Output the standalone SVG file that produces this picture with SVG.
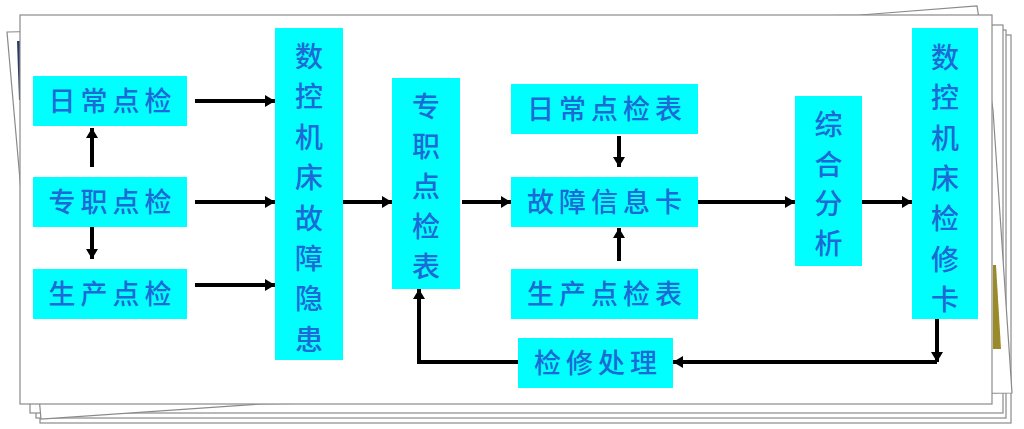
<svg xmlns="http://www.w3.org/2000/svg" width="1024" height="429" viewBox="0 0 1024 429">
<defs>
<style>
.pg{fill:#ffffff;stroke:#8a8a8a;stroke-width:1.2}
.box{fill:#00ffff}
.t{font-family:"Noto Sans CJK SC","Noto Sans CJK TC",sans-serif;font-size:27px;font-weight:500;fill:#1d6ad6;letter-spacing:5px}
.v{font-family:"Noto Sans CJK SC","Noto Sans CJK TC",sans-serif;font-size:28px;font-weight:500;fill:#1d6ad6;text-anchor:middle}
.c{fill:none;stroke:#000000;stroke-width:4;marker-end:url(#ah)}
</style>
<marker id="ah" markerUnits="userSpaceOnUse" markerWidth="11" markerHeight="13" refX="10" refY="6" orient="auto">
<path d="M0,0 L10,6 L0,12 z" fill="#000000"/>
</marker>
</defs>
<rect x="0" y="0" width="1024" height="429" fill="#ffffff"/>
<g id="pages">
<rect class="pg" x="40" y="35" width="971" height="388"/>
<rect class="pg" x="36" y="30" width="970" height="388"/>
<rect class="pg" x="30" y="25" width="973" height="388"/>
<path class="pg" d="M7,32 L860,15 L977,6 L993,110 L1012,393 L260,404 L41,419 Z"/>
<polygon points="993,265 996,265 1001,349 993,349" fill="#9a8a2a"/>
<polygon points="17,41 21,41 21,100 19,100" fill="#2c3a66"/>
<rect class="pg" x="20" y="15" width="972" height="389"/>
</g>
<g id="connectors">
<path class="c" d="M195,101 H275"/>
<path class="c" d="M195,202 H275"/>
<path class="c" d="M195,285 H275"/>
<path class="c" d="M92,167 V128"/>
<path class="c" d="M92,227 V259"/>
<path class="c" d="M343,202 H392"/>
<path class="c" d="M462,202 H511"/>
<path class="c" d="M619,136 V167"/>
<path class="c" d="M619,261 V228"/>
<path class="c" d="M697,202 H795"/>
<path class="c" d="M862,202 H912"/>
<path class="c" d="M937,319 V362"/>
<path class="c" d="M937,362 H673"/>
<path class="c" d="M518,362 H419 V289"/>
</g>
<g id="n1"><rect class="box" x="33" y="76" width="154" height="50"/><text class="t" x="112.5" y="111" text-anchor="middle">日常点检</text></g>
<g id="n2"><rect class="box" x="33" y="177" width="154" height="50"/><text class="t" x="112.5" y="212" text-anchor="middle">专职点检</text></g>
<g id="n3"><rect class="box" x="33" y="269" width="154" height="50"/><text class="t" x="112.5" y="304" text-anchor="middle">生产点检</text></g>
<g id="n4"><rect class="box" x="275" y="28" width="68" height="332"/>
<text class="v" x="309" y="67"><tspan x="309">数</tspan><tspan x="309" dy="40.4">控</tspan><tspan x="309" dy="40.4">机</tspan><tspan x="309" dy="40.4">床</tspan><tspan x="309" dy="40.4">故</tspan><tspan x="309" dy="40.4">障</tspan><tspan x="309" dy="40.4">隐</tspan><tspan x="309" dy="40.4">患</tspan></text></g>
<g id="n5"><rect class="box" x="392" y="78" width="68" height="211"/>
<text class="v" x="426" y="117"><tspan x="426">专</tspan><tspan x="426" dy="40">职</tspan><tspan x="426" dy="40">点</tspan><tspan x="426" dy="40">检</tspan><tspan x="426" dy="40">表</tspan></text></g>
<g id="n6"><rect class="box" x="511" y="84" width="187" height="50"/><text class="t" x="607" y="119" text-anchor="middle">日常点检表</text></g>
<g id="n7"><rect class="box" x="511" y="177" width="187" height="50"/><text class="t" x="607" y="212" text-anchor="middle">故障信息卡</text></g>
<g id="n8"><rect class="box" x="511" y="269" width="187" height="50"/><text class="t" x="607" y="304" text-anchor="middle">生产点检表</text></g>
<g id="n9"><rect class="box" x="518" y="338" width="155" height="50"/><text class="t" x="598" y="373" text-anchor="middle">检修处理</text></g>
<g id="n10"><rect class="box" x="795" y="96" width="67" height="170"/>
<text class="v" x="828.5" y="135"><tspan x="828.5">综</tspan><tspan x="828.5" dy="39.5">合</tspan><tspan x="828.5" dy="39.5">分</tspan><tspan x="828.5" dy="39.5">析</tspan></text></g>
<g id="n11"><rect class="box" x="912" y="28" width="66" height="291"/>
<text class="v" x="945" y="68"><tspan x="945">数</tspan><tspan x="945" dy="40.3">控</tspan><tspan x="945" dy="40.3">机</tspan><tspan x="945" dy="40.3">床</tspan><tspan x="945" dy="40.3">检</tspan><tspan x="945" dy="40.3">修</tspan><tspan x="945" dy="40.3">卡</tspan></text></g>
</svg>
